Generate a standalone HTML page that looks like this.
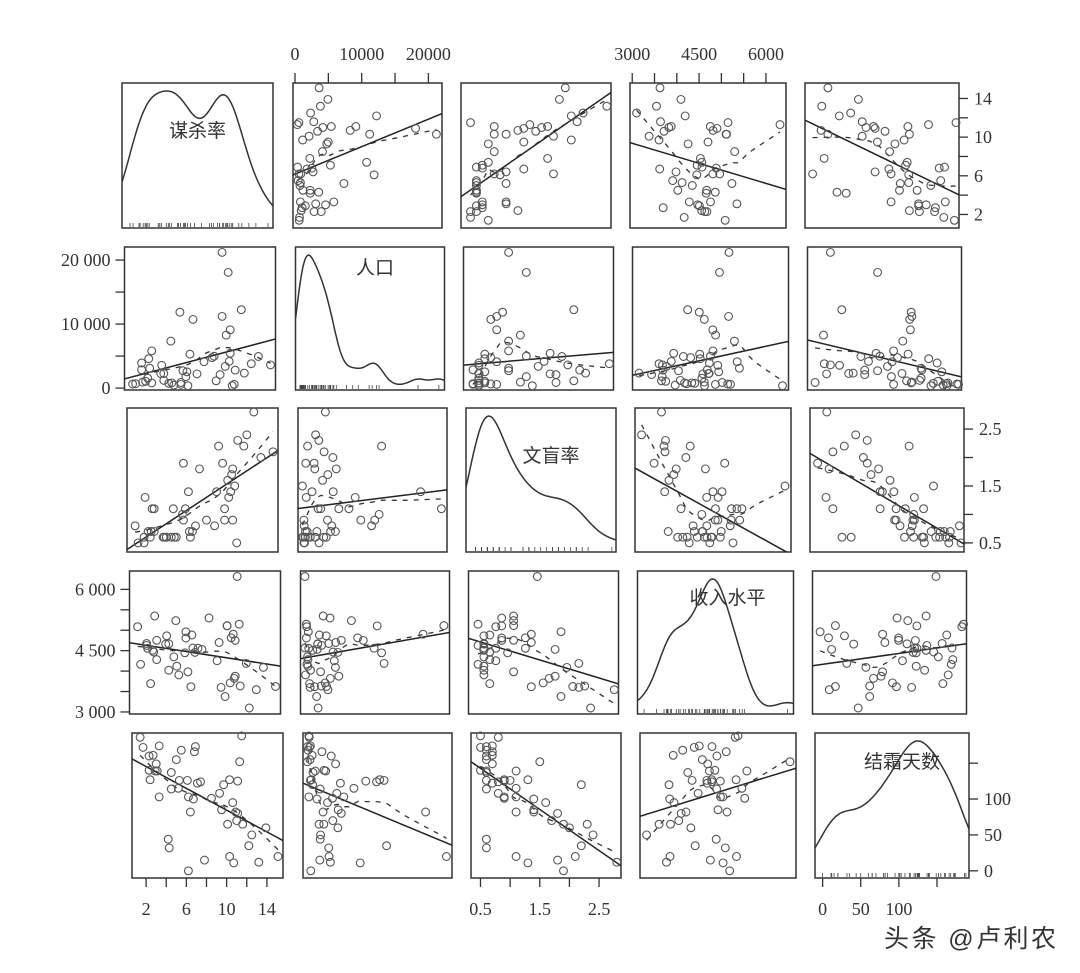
<!DOCTYPE html>
<html><head><meta charset="utf-8">
<style>
html,body{margin:0;padding:0;background:#fff;}
svg{display:block;}
text{font-family:"Liberation Serif","Noto Serif CJK SC",serif;fill:#333;}
.cjk{font-family:"Liberation Sans","Noto Sans CJK SC",sans-serif;fill:#333;}
</style></head>
<body>
<svg id="chart" width="1080" height="973" viewBox="0 0 1080 973" xmlns="http://www.w3.org/2000/svg">
<text class="cjk" x="884" y="947" font-size="25" fill="#222" textLength="172">头条 @卢利农</text>
</svg>
<script>
// state.x77 values (50 states)
const murder=[15.1,11.3,7.8,10.1,10.3,6.8,3.1,6.2,10.7,13.9,6.2,5.3,10.3,7.1,2.3,4.5,10.6,13.2,2.7,8.5,3.3,11.1,2.3,12.5,9.3,5.0,2.9,11.5,3.3,5.2,9.7,10.9,11.1,1.4,7.4,6.4,4.2,6.1,2.4,11.6,1.7,11.0,12.2,4.5,5.5,9.5,4.3,6.7,3.0,6.9];
const population=[3615,365,2212,2110,21198,2541,3100,579,8277,4931,868,813,11197,5313,2861,2280,3387,3806,1058,4122,5814,9111,3921,2341,4767,746,1544,590,812,7333,1144,18076,5441,637,10735,2715,2284,11860,931,2816,681,4173,12237,1203,472,4981,3559,1799,4589,376];
const illiteracy=[2.1,1.5,1.8,1.9,1.1,0.7,1.1,0.9,1.3,2.0,1.9,0.6,0.9,0.7,0.5,0.6,1.6,2.8,0.7,0.9,1.1,0.9,0.6,2.4,0.8,0.6,0.6,0.5,0.7,1.1,2.2,1.4,1.8,0.8,0.8,1.1,0.6,1.0,1.3,2.3,0.5,1.7,2.2,0.6,0.6,1.4,0.6,1.4,0.7,0.6];
const income=[3624,6315,4530,3378,5114,4884,5348,4809,4815,4091,4963,4119,5107,4458,4628,4669,3712,3545,3694,5299,4755,4751,4675,3098,4254,4347,4508,5149,4281,5237,3601,4903,3875,5087,4561,3983,4660,4449,4558,3635,4167,3821,4188,4022,3907,4701,4864,3617,4468,4566];
const frost=[20,152,15,65,20,166,139,103,11,60,0,126,127,122,140,114,95,12,161,101,103,125,160,50,108,155,139,188,174,115,120,82,80,186,124,82,44,126,127,65,172,70,35,137,168,85,32,100,149,173];
const varLabels=["谋杀率","人口","文盲率","收入水平","结霜天数"];
const domains=[[0.6,15.6],[-300,22040],[0.34,2.87],[2950,6450],[-10,192]];
const tickVals=[[2,4,6,8,10,12,14],[0,5000,10000,15000,20000],[0.5,1,1.5,2,2.5],[3000,3500,4000,4500,5000,5500,6000],[0,50,100,150]];
const topLabels={1:[[0,"0"],[10000,"10000"],[20000,"20000"]],3:[[3000,"3000"],[4500,"4500"],[6000,"6000"]]};
const rightLabels={0:[[2,"2"],[6,"6"],[10,"10"],[14,"14"]],2:[[0.5,"0.5"],[1.5,"1.5"],[2.5,"2.5"]],4:[[0,"0"],[50,"50"],[100,"100"]]};
const leftLabels={1:[[0,"0"],[10000,"10 000"],[20000,"20 000"]],3:[[3000,"3 000"],[4500,"4 500"],[6000,"6 000"]]};
const bottomLabels={0:[[2,"2"],[6,"6"],[10,"10"],[14,"14"]],2:[[0.5,"0.5"],[1.5,"1.5"],[2.5,"2.5"]],4:[[0,"0"],[50,"50"],[100,"100"]]};
const vars=[murder,population,illiteracy,income,frost];

const colL=[122,293,461,630,805], colW=[151,149,150,156,154];
const rowT=[83,247,408,571,733], rowH=[145,143,144,143,145];
const NS="http://www.w3.org/2000/svg";
const svg=document.getElementById('chart');
function mk(tag,attrs,parent){const e=document.createElementNS(NS,tag);for(const k in attrs)e.setAttribute(k,attrs[k]);(parent||svg).appendChild(e);return e;}
function rect(r,c){return {x:colL[c]+2.5*r,y:rowT[r],w:colW[c],h:rowH[r]};}
function sx(v,c,R){const d=domains[c];return R.x+(v-d[0])/(d[1]-d[0])*R.w;}
function sy(v,r,R){const d=domains[r];return R.y+R.h-(v-d[0])/(d[1]-d[0])*R.h;}

function lm(x,y){const n=x.length;let mx=0,my=0;for(let i=0;i<n;i++){mx+=x[i];my+=y[i];}mx/=n;my/=n;let sxy=0,sxx=0;for(let i=0;i<n;i++){sxy+=(x[i]-mx)*(y[i]-my);sxx+=(x[i]-mx)**2;}const b=sxy/sxx;return [my-b*mx,b];}
function lowess(x,y,x0,f){const n=x.length,q=Math.max(3,Math.floor(f*n));const d=x.map(v=>Math.abs(v-x0));const h=[...d].sort((a,b)=>a-b)[q-1]*1.0001||1;let sw=0,swx=0,swy=0,swxx=0,swxy=0;for(let i=0;i<n;i++){const u=d[i]/h;if(u>=1)continue;const w=(1-u*u*u)**3;sw+=w;swx+=w*x[i];swy+=w*y[i];swxx+=w*x[i]*x[i];swxy+=w*x[i]*y[i];}const mx=swx/sw,my=swy/sw,vx=swxx/sw-mx*mx;const b=vx>1e-12?(swxy/sw-mx*my)/vx:0;return my+b*(x0-mx);}
function kde(x,t){const n=x.length;const m=x.reduce((a,b)=>a+b)/n;const sd=Math.sqrt(x.reduce((a,b)=>a+(b-m)**2,0)/(n-1));const s=[...x].sort((a,b)=>a-b);const iqr=s[Math.floor(0.75*(n-1))]-s[Math.floor(0.25*(n-1))];const bw=0.9*Math.min(sd,iqr/1.34)*Math.pow(n,-0.2);let d=0;for(const v of x)d+=Math.exp(-0.5*((t-v)/bw)**2);return d/(n*bw);}

for(let r=0;r<5;r++){for(let c=0;c<5;c++){
  const R=rect(r,c);
  const g=mk('g',{});
  
  
  const cid='clip'+r+c;
  const cp=mk('clipPath',{id:cid},g);mk('rect',{x:R.x,y:R.y,width:R.w,height:R.h},cp);
  const box=mk('rect',{x:R.x,y:R.y,width:R.w,height:R.h,fill:'none',stroke:'#333','stroke-width':1.5},g);
  
  
  if(r===c){
    const xs=vars[c];const d=domains[c];const pts=[];let mx=0;const N=80;const vals=[];
    for(let i=0;i<=N;i++){const t=d[0]+(d[1]-d[0])*i/N;const v=kde(xs,t);vals.push([t,v]);if(v>mx)mx=v;}
    for(const [t,v] of vals)pts.push(sx(t,c,R).toFixed(1)+','+(R.y+R.h-5-(v/mx)*(R.h-13)).toFixed(1));
    const pl=mk('polyline',{points:pts.join(' '),fill:'none',stroke:'#333','stroke-width':1.5,'clip-path':'url(#'+cid+')'},g);
    
    
    for(const v of xs){const x=sx(v,c,R);const rl=mk('line',{x1:x,x2:x,y1:R.y+R.h-1,y2:R.y+R.h-5,stroke:'#444','stroke-width':0.8},g);
      
      }
    const lbl=mk('text',{x:R.x+R.w/2+(c===0?0:c===1?5:c===3?12:10),y:R.y+(c===3?33:c===4?35:c===1?27:54),'font-size':19,'text-anchor':'middle',class:'cjk'},g);
    lbl.textContent=varLabels[c];
    
    
  } else {
    const xs=vars[c],ys=vars[r];
    const [a,b]=lm(xs,ys);const d=domains[c];
    const rl=mk('line',{x1:sx(d[0],c,R),y1:sy(a+b*d[0],r,R),x2:sx(d[1],c,R),y2:sy(a+b*d[1],r,R),stroke:'#222','stroke-width':1.5,'clip-path':'url(#'+cid+')'},g);
    
    
    const mn=Math.min(...xs),mxv=Math.max(...xs);const lp=[];
    for(let i=0;i<=30;i++){const t=mn+(mxv-mn)*i/30;lp.push(sx(t,c,R).toFixed(1)+','+sy(lowess(xs,ys,t,0.6),r,R).toFixed(1));}
    const ll=mk('polyline',{points:lp.join(' '),fill:'none',stroke:'#333','stroke-width':1.3,'stroke-dasharray':'5,6','clip-path':'url(#'+cid+')'},g);
    
    
    for(let i=0;i<xs.length;i++){
      const p=mk('circle',{cx:sx(xs[i],c,R).toFixed(1),cy:sy(ys[i],r,R).toFixed(1),r:3.9,fill:'none',stroke:'#555','stroke-width':1.1},g);
      
      
    }
  }
}}

function axis(side,idx,labels){
  const g=mk('g',{});
  
  
  let R;
  if(side==='top')R=rect(0,idx);else if(side==='bottom')R=rect(4,idx);else if(side==='left')R=rect(idx,0);else R=rect(idx,4);
  const horiz=(side==='top'||side==='bottom');
  const ticks=tickVals[idx];
  const pos=v=>horiz?sx(v,idx,R):sy(v,idx,R);
  for(const v of ticks){const p=pos(v);
    let t;
    if(side==='top')t=mk('line',{x1:p,x2:p,y1:R.y-10,y2:R.y,stroke:'#333','stroke-width':1.3},g);
    else if(side==='bottom')t=mk('line',{x1:p,x2:p,y1:R.y+R.h,y2:R.y+R.h+9,stroke:'#333','stroke-width':1.3},g);
    else if(side==='left')t=mk('line',{x1:R.x-9,x2:R.x,y1:p,y2:p,stroke:'#333','stroke-width':1.3},g);
    else t=mk('line',{x1:R.x+R.w,x2:R.x+R.w+9,y1:p,y2:p,stroke:'#333','stroke-width':1.3},g);
    
    
  }
  for(const [v,s] of labels){const p=pos(v);let t;
    if(side==='top')t=mk('text',{x:p,y:R.y-23,'font-size':18,'text-anchor':'middle'},g);
    else if(side==='bottom')t=mk('text',{x:p,y:R.y+R.h+37,'font-size':18,'text-anchor':'middle'},g);
    else if(side==='left')t=mk('text',{x:R.x-14,y:p+6,'font-size':18,'text-anchor':'end'},g);
    else t=mk('text',{x:R.x+R.w+15,y:p+6,'font-size':18,'text-anchor':'start'},g);
    t.textContent=s;
    
    
  }
}
for(const k in topLabels)axis('top',+k,topLabels[k]);
for(const k in rightLabels)axis('right',+k,rightLabels[k]);
for(const k in leftLabels)axis('left',+k,leftLabels[k]);
for(const k in bottomLabels)axis('bottom',+k,bottomLabels[k]);
</script>
</body></html>
